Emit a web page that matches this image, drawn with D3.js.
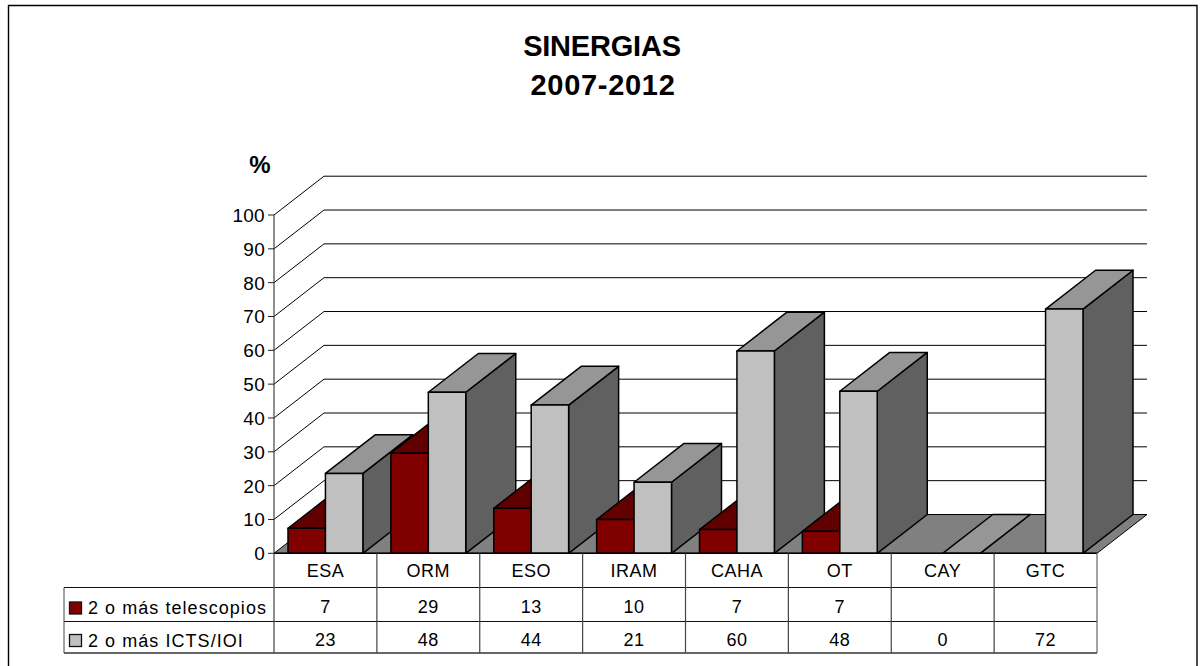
<!DOCTYPE html>
<html><head><meta charset="utf-8">
<style>html,body{margin:0;padding:0;background:#fff}svg{display:block}text{font-family:"Liberation Sans",Arial,sans-serif;fill:#000}</style>
<script src="https://cdn.jsdelivr.net/npm/d3@7/dist/d3.min.js"></script>
</head><body><svg id="c" width="1201" height="666"></svg>
<script>
const categories=["ESA","ORM","ESO","IRAM","CAHA","OT","CAY","GTC"];
const seriesNames=["2 o más telescopios","2 o más ICTS/IOI"];
const telescopios=[7.4,29.6,13.3,10,7,6.5,null,null];
const icts=[23.6,47.6,43.8,21,59.8,47.9,0,72.2];
const telescopiosLabels=["7","29","13","10","7","7","",""];
const ictsLabels=["23","48","44","21","60","48","0","72"];
const yTicks=[0,10,20,30,40,50,60,70,80,90,100];

const svg=d3.select("#c");
const x0=274,x1=1097,yB=553.3,yT=215,dx=50,dy=-38.8;
const x=d3.scaleBand().domain(categories).range([x0,x1]).paddingInner(0).paddingOuter(0);
const y=d3.scaleLinear().domain([0,100]).range([yB,yT]);
const colors={red:{front:"#800000",top:"#600000",side:"#400000"},gray:{front:"#C0C0C0",top:"#969696",side:"#606060"}};
const pad=14, bw=(x.bandwidth()-2*pad)/2;
const poly=(pts,fill,sw=1.5)=>svg.append("polygon").attr("points",pts.map(p=>p.join(",")).join(" ")).attr("fill",fill).attr("stroke","#000").attr("stroke-width",sw).attr("stroke-linejoin","round");
const line=(a,b,c,d,col="#000",w=1)=>svg.append("line").attr("x1",a).attr("y1",b).attr("x2",c).attr("y2",d).attr("stroke",col).attr("stroke-width",w);

// frame: open at the bottom, as the picture is cropped there
svg.append("polyline").attr("points","8.5,666 8.5,5.5 1197,5.5 1197,666").attr("fill","none").attr("stroke","#000").attr("stroke-width",1.4);

// title
svg.append("text").attr("x",602).attr("y",56).attr("text-anchor","middle").attr("font-size",29).attr("font-weight","bold").attr("letter-spacing",-0.2).text("SINERGIAS");
svg.append("text").attr("x",603).attr("y",95).attr("text-anchor","middle").attr("font-size",29).attr("font-weight","bold").attr("letter-spacing",0.7).text("2007-2012");
svg.append("text").attr("x",260).attr("y",173).attr("text-anchor","middle").attr("font-size",24).attr("font-weight","bold").text("%");

// floor
poly([[x0,yB],[x1,yB],[x1+dx,yB+dy],[x0+dx,yB+dy]],"#808080",1);

// gridlines on walls
yTicks.filter(d=>d>0).forEach(t=>{
  const yy=y(t);
  svg.append("polyline").attr("points",`${x0},${yy} ${x0+dx},${yy+dy} ${x1+dx},${yy+dy}`).attr("fill","none").attr("stroke","#000").attr("stroke-width",1);
});

// y axis
line(x0,yT,x0,yB,"#444",1.2);
yTicks.forEach(t=>{
  line(x0-6,y(t),x0,y(t),"#222",1);
  svg.append("text").attr("x",x0-9).attr("y",y(t)+7).attr("text-anchor","end").attr("font-size",19).attr("letter-spacing",0.3).text(t);
});

// bars
function bar(xl,val,c){
  const xr=xl+bw, yt=y(val);
  poly([[xr,yB],[xr+dx,yB+dy],[xr+dx,yt+dy],[xr,yt]],c.side);
  poly([[xl,yt],[xr,yt],[xr+dx,yt+dy],[xl+dx,yt+dy]],c.top);
  if(val>0) poly([[xl,yB],[xr,yB],[xr,yt],[xl,yt]],c.front);
}
categories.forEach((cat,i)=>{
  const s=x(cat)+pad;
  if(telescopios[i]!==null) bar(s,telescopios[i],colors.red);
  if(icts[i]!==null) bar(s+bw,icts[i],colors.gray);
});

// data table
const tx=64,r0=yB,r1=587.5,r2=621.5,r3=653;
line(x0,r0,x1,r0,"#000",1.5);
[r1,r2].forEach(r=>line(tx,r,x1,r,"#111",1));
line(tx,r3,x1,r3,"#666",2);
line(tx,r1,tx,r3,"#444",1);
d3.range(categories.length+1).forEach(i=>{
  const xx=i<categories.length?x(categories[i]):x1;
  line(xx,r0,xx,r3,i==categories.length?"#666":"#444",1.2);
});
const cell=(cx,cy,t)=>svg.append("text").attr("x",cx).attr("y",cy).attr("text-anchor","middle").attr("font-size",18).attr("letter-spacing",0.5).text(t);
categories.forEach((c,i)=>{
  const cx=x(c)+x.bandwidth()/2;
  cell(cx,577,c);
  cell(cx,613,telescopiosLabels[i]);
  cell(cx,646,ictsLabels[i]);
});
[[seriesNames[0],colors.red.front,602,613.5],[seriesNames[1],colors.gray.front,634.5,646.5]].forEach(([n,f,ky,ty])=>{
  svg.append("rect").attr("x",69.5).attr("y",ky).attr("width",12).attr("height",12).attr("fill",f).attr("stroke","#111").attr("stroke-width",1.3);
  svg.append("text").attr("x",88).attr("y",ty).attr("font-size",18).attr("letter-spacing",1.05).text(n);
});
</script></body></html>
